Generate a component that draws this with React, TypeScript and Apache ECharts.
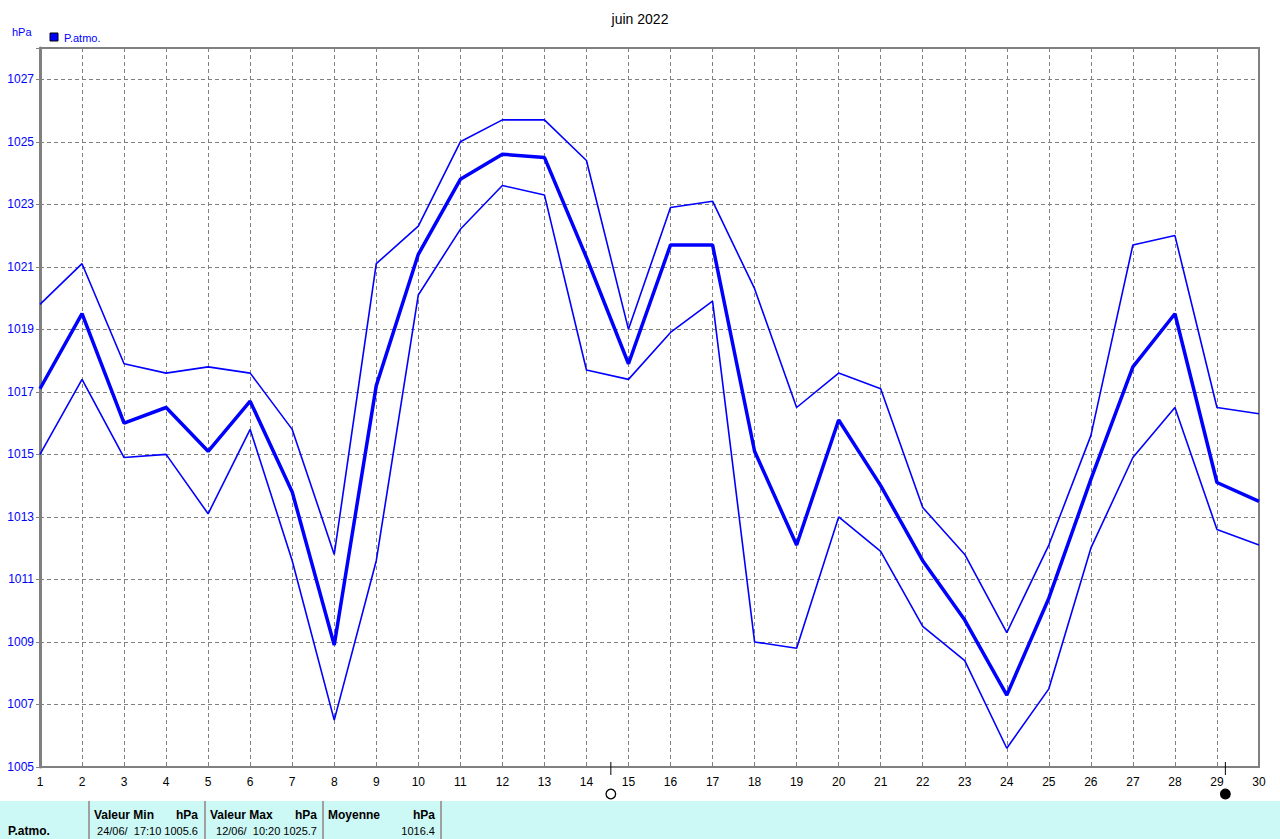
import React, { useEffect, useRef } from "react";
import * as echarts from "echarts";

const days = Array.from({ length: 30 }, (_, i) => i + 1);
const pMax = [1019.8, 1021.1, 1017.9, 1017.6, 1017.8, 1017.6, 1015.8, 1011.8, 1021.1, 1022.3, 1025.0, 1025.7, 1025.7, 1024.4, 1019.0, 1022.9, 1023.1, 1020.3, 1016.5, 1017.6, 1017.1, 1013.3, 1011.8, 1009.3, 1012.1, 1015.6, 1021.7, 1022.0, 1016.5, 1016.3];
const pMean = [1017.1, 1019.5, 1016.0, 1016.5, 1015.1, 1016.7, 1013.8, 1008.9, 1017.2, 1021.4, 1023.8, 1024.6, 1024.5, 1021.3, 1017.9, 1021.7, 1021.7, 1015.1, 1012.1, 1016.1, 1014.0, 1011.6, 1009.7, 1007.3, 1010.4, 1014.2, 1017.8, 1019.5, 1014.1, 1013.5];
const pMin = [1015.0, 1017.4, 1014.9, 1015.0, 1013.1, 1015.8, 1011.6, 1006.5, 1011.6, 1020.1, 1022.2, 1023.6, 1023.3, 1017.7, 1017.4, 1018.9, 1019.9, 1009.0, 1008.8, 1013.0, 1011.9, 1009.5, 1008.4, 1005.6, 1007.5, 1012.0, 1014.9, 1016.5, 1012.6, 1012.1];
const moonDays = [14.58, 29.2];
const moonFilled = [false, true];

const title = "juin 2022";
const unit = "hPa";
const seriesName = "P.atmo.";
const tableHeaders = ["Valeur Min", "Valeur Max", "Moyenne"];
const tableValues = ["24/06/  17:10 1005.6", "12/06/  10:20 1025.7", "1016.4"];

const BLUE = "#0000FF";
const GRAY = "#808080";
const FONT = "'Liberation Sans', Arial, sans-serif";

export default function App() {
  const ref = useRef<HTMLDivElement>(null);
  useEffect(() => {
    if (!ref.current) return;
    const chart = echarts.init(ref.current, null, { renderer: "svg" });
    const mk = (arr: number[]) => days.map((d, i) => [d, arr[i]]);
    chart.setOption({
      animation: false,
      backgroundColor: "#FFFFFF",
      title: {
        text: title,
        left: "center",
        top: 7,
        textStyle: { fontFamily: FONT, fontSize: 14, fontWeight: "normal", color: "#000" },
      },
      grid: {
        left: 40,
        right: 21,
        top: 48,
        bottom: 72,
        show: true,
        borderColor: GRAY,
        borderWidth: 2,
        backgroundColor: "transparent",
      },
      xAxis: {
        type: "value",
        min: 1,
        max: 30,
        interval: 1,
        axisLine: { show: true, lineStyle: { color: GRAY, width: 2 } },
        axisTick: { show: false },
        axisLabel: { color: "#000", fontFamily: FONT, fontSize: 12, margin: 9 },
        splitLine: { show: true, lineStyle: { color: GRAY, type: [4, 3], width: 1 } },
      },
      yAxis: {
        type: "value",
        min: 1005,
        max: 1028,
        interval: 2,
        axisLine: { show: true, lineStyle: { color: GRAY, width: 3 } },
        axisTick: { show: true, length: 4, lineStyle: { color: GRAY, width: 1 } },
        axisLabel: {
          color: BLUE,
          fontFamily: FONT,
          fontSize: 12,
          margin: 6,
          formatter: (v: number) => (v === 1028 ? "" : String(v)),
        },
        splitLine: { show: true, lineStyle: { color: GRAY, type: [4, 3], width: 1 } },
      },
      series: [
        { name: seriesName + " max", type: "line", data: mk(pMax), symbol: "none", lineStyle: { color: BLUE, width: 1.6 } },
        { name: seriesName, type: "line", data: mk(pMean), symbol: "none", lineStyle: { color: BLUE, width: 3.5 } },
        { name: seriesName + " min", type: "line", data: mk(pMin), symbol: "none", lineStyle: { color: BLUE, width: 1.6 } },
      ],
    });

    const axisY = chart.convertToPixel({ yAxisIndex: 0 }, 1005) as number;
    const moonEls: any[] = [];
    moonDays.forEach((d, i) => {
      const px = chart.convertToPixel({ xAxisIndex: 0 }, d) as number;
      moonEls.push({
        type: "line",
        shape: { x1: px, y1: axisY - 5, x2: px, y2: axisY + 8 },
        style: { stroke: "#000", lineWidth: 1 },
        z: 100,
      });
      moonEls.push({
        type: "circle",
        shape: { cx: px, cy: axisY + 27, r: 4.8 },
        style: { fill: moonFilled[i] ? "#000" : "#fff", stroke: "#000", lineWidth: 1.3 },
        z: 100,
      });
    });

    const tY = 801;
    const sep = [89, 205, 323, 441];
    const colRight = [198, 317, 435];
    const tableEls: any[] = [
      { type: "rect", shape: { x: 0, y: tY, width: 1280, height: 38 }, style: { fill: "#CCF8F6" } },
      ...sep.map((x) => ({ type: "line", shape: { x1: x, y1: tY, x2: x, y2: 839 }, style: { stroke: "#A0A0A0", lineWidth: 2 } })),
      { type: "text", style: { text: seriesName, x: 8, y: 831, verticalAlign: "middle", font: `bold 12px ${FONT}`, fill: "#000" } },
    ];
    tableHeaders.forEach((h, i) => {
      const left = sep[i] + 5;
      tableEls.push({ type: "text", style: { text: h, x: left, y: 815, verticalAlign: "middle", font: `bold 12px ${FONT}`, fill: "#000" } });
      tableEls.push({ type: "text", style: { text: unit, x: colRight[i], y: 815, align: "right", verticalAlign: "middle", font: `bold 12px ${FONT}`, fill: "#000" } });
      tableEls.push({ type: "text", style: { text: tableValues[i], x: colRight[i], y: 831, align: "right", verticalAlign: "middle", font: `11px ${FONT}`, fill: "#000" } });
    });

    const headEls: any[] = [
      { type: "text", style: { text: unit, x: 12, y: 32, verticalAlign: "middle", font: `11px ${FONT}`, fill: BLUE } },
      { type: "rect", shape: { x: 50, y: 33, width: 8, height: 8 }, style: { fill: BLUE, stroke: "#000", lineWidth: 1 } },
      { type: "text", style: { text: seriesName, x: 64, y: 38, verticalAlign: "middle", font: `11px ${FONT}`, fill: BLUE } },
    ];

    chart.setOption({ graphic: { elements: [...moonEls, ...tableEls, ...headEls] } });

    return () => chart.dispose();
  }, []);
  return (
    <div
      ref={ref}
      style={{ position: "fixed", left: 0, top: 0, width: 1280, height: 839, background: "#fff" }}
    />
  );
}
